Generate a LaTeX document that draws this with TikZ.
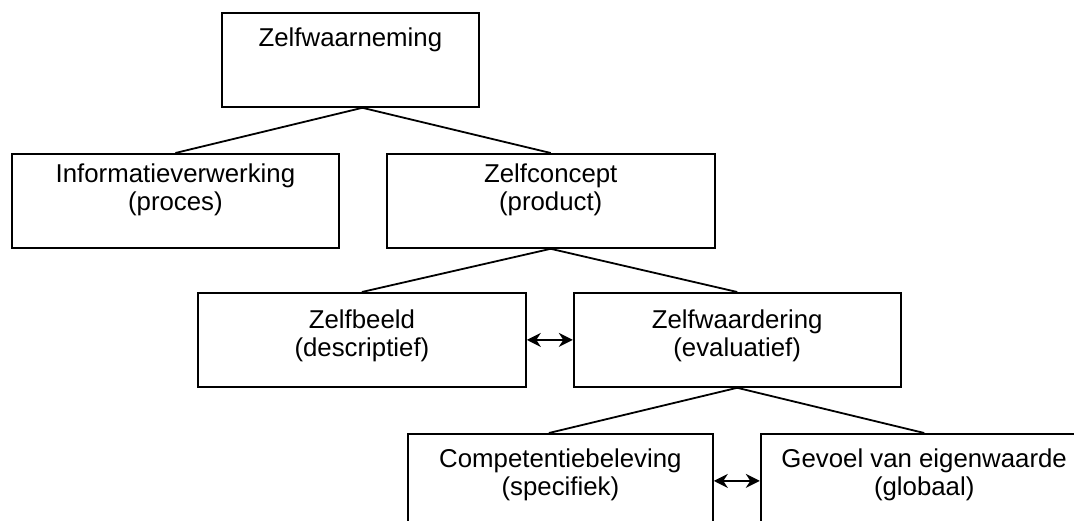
\documentclass[tikz,border=0pt]{standalone}
\usepackage{fontspec}
\setmainfont{Liberation Sans}
\usetikzlibrary{positioning, arrows.meta}

\tikzset{
    box/.style={draw=black, line width=1.8pt, minimum height=94pt, inner sep=0pt},
    lbl/.style={anchor=north, align=center, inner sep=0pt, yshift=-16pt,
        font=\fontsize{25.8pt}{28pt}\selectfont},
    link/.style={draw=black, line width=1.8pt},
    tip/.tip={Stealth[length=14pt, width=14pt, inset=4.5pt]}
}

\begin{document}
\begin{tikzpicture}[x=1pt, y=1pt]
    \useasboundingbox (0,0) rectangle (1074,-521);
    % Add the boxes
        \node[box, minimum width=257pt, anchor=north west, label={[lbl]north:Zelfwaarneming}] (zw) at (221,-12) {};
        \node[box, minimum width=327pt, anchor=north west, label={[lbl, yshift=5pt]north:{Informatieverwerking\\(proces)}}] (info) at (11,-153) {};
        \node[box, minimum width=328pt, right = 46pt of info, label={[lbl, yshift=5pt]north:{Zelfconcept\\(product)}}] (zc) {};
        \node[box, minimum width=328pt, anchor=north west, label={[lbl, yshift=-2pt]north:{Zelfbeeld\\(descriptief)}}] (zb) at (197,-292) {};
        \node[box, minimum width=327pt, right = 46pt of zb, label={[lbl, yshift=-2pt]north:{Zelfwaardering\\(evaluatief)}}] (zwd) {};
        \node[box, minimum width=305pt, anchor=north west, label={[lbl]north:{Competentiebeleving\\(specifiek)}}] (comp) at (407,-433) {};
        \node[box, minimum width=327pt, right = 46pt of comp, label={[lbl]north:{Gevoel van eigenwaarde\\(globaal)}}] (gev) {};

        % Connect the boxes
        \draw[link]
            ([xshift=12pt]zw.south) -- (info.north)
            ([xshift=12pt]zw.south) -- (zc.north)
            (zc.south) -- (zb.north)
            (zc.south) -- (zwd.north)
            (zwd.south) -- ([xshift=-11.5pt]comp.north)
            (zwd.south) -- (gev.north)
            ;
        \draw[link]
            (zb) edge[tip-tip] (zwd)
            (comp) edge[tip-tip] (gev)
            ;
\end{tikzpicture}
\end{document}
